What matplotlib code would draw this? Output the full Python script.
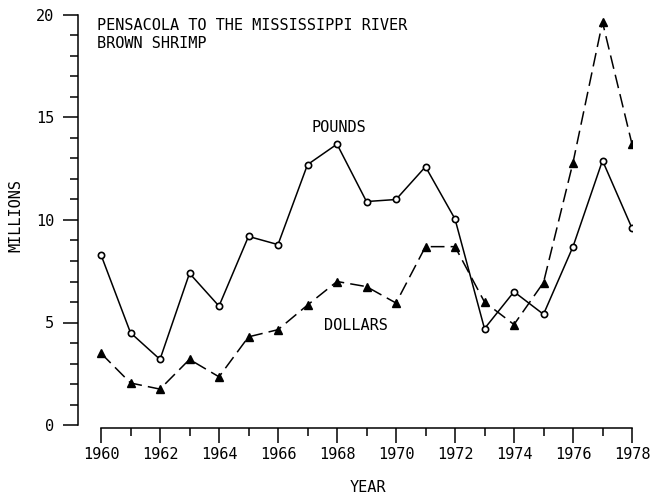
import matplotlib
matplotlib.use("Agg")
import matplotlib.pyplot as plt
from matplotlib.ticker import MultipleLocator

years = list(range(1960, 1979))
pounds = [8.3, 4.5, 3.2, 7.4, 5.8, 9.2, 8.8, 12.7, 13.7, 10.9, 11.0, 12.6,
          10.05, 4.7, 6.5, 5.4, 8.7, 12.9, 9.6]
dollars = [3.5, 2.05, 1.75, 3.2, 2.35, 4.3, 4.65, 5.85, 7.0, 6.75, 5.95, 8.7,
           8.7, 6.0, 4.9, 6.95, 12.8, 19.65, 13.7]
xtick_labels = [str(y) for y in range(1960, 1979, 2)]
ytick_labels = ["0", "5", "10", "15", "20"]

font = "DejaVu Sans Mono"
plt.rcParams["font.family"] = font
fs = 11

fig = plt.figure(figsize=(6.52, 4.97), dpi=100)
ax = fig.add_axes([78/652, 1-428/497, (632-78)/652, (428-15)/497])
ax.set_xlim(1960 - 23/29.5, 1978)
ax.set_ylim(-3/20.5, 20)

ax.plot(years, pounds, color="black", lw=1.1, marker="o", ms=4.5,
        mfc="white", mec="black", mew=1.2)
ax.plot(years, dollars, color="black", lw=1.1, dashes=(9, 4), marker="^",
        ms=6, mfc="black", mec="black")

for s in ["top", "right"]:
    ax.spines[s].set_visible(False)
ax.spines["left"].set_bounds(0, 20)
ax.spines["bottom"].set_bounds(1960, 1978)
ax.spines["left"].set_linewidth(1.1)
ax.spines["bottom"].set_linewidth(1.1)

ax.set_xticks(range(1960, 1979, 2))
ax.set_xticklabels(xtick_labels)
ax.xaxis.set_minor_locator(MultipleLocator(1))
ax.set_yticks([0, 5, 10, 15, 20])
ax.set_yticklabels(ytick_labels)
ax.yaxis.set_minor_locator(MultipleLocator(1))
ax.tick_params(axis="x", which="major", length=11, width=1.1, pad=3, labelsize=fs)
ax.tick_params(axis="x", which="minor", length=6, width=1.1)
ax.tick_params(axis="y", which="major", length=11, width=1.1, pad=6, labelsize=fs)
ax.tick_params(axis="y", which="minor", length=6, width=1.1)

fig.text(16/652, 1-216/497, "MILLIONS", rotation=90, ha="center", va="center", fontsize=fs)
fig.text(368/652, 1-487/497, "YEAR", ha="center", va="center", fontsize=fs)
fig.text(97/652, 1-25/497, "PENSACOLA TO THE MISSISSIPPI RIVER", ha="left", va="center", fontsize=fs)
fig.text(97/652, 1-43/497, "BROWN SHRIMP", ha="left", va="center", fontsize=fs)
ax.text(1960 + (339-101)/29.5, (425-128)/20.5, "POUNDS", ha="center", va="center", fontsize=fs)
ax.text(1960 + (356-101)/29.5, (425-325)/20.5, "DOLLARS", ha="center", va="center", fontsize=fs)

fig.savefig("out.png", dpi=100)
